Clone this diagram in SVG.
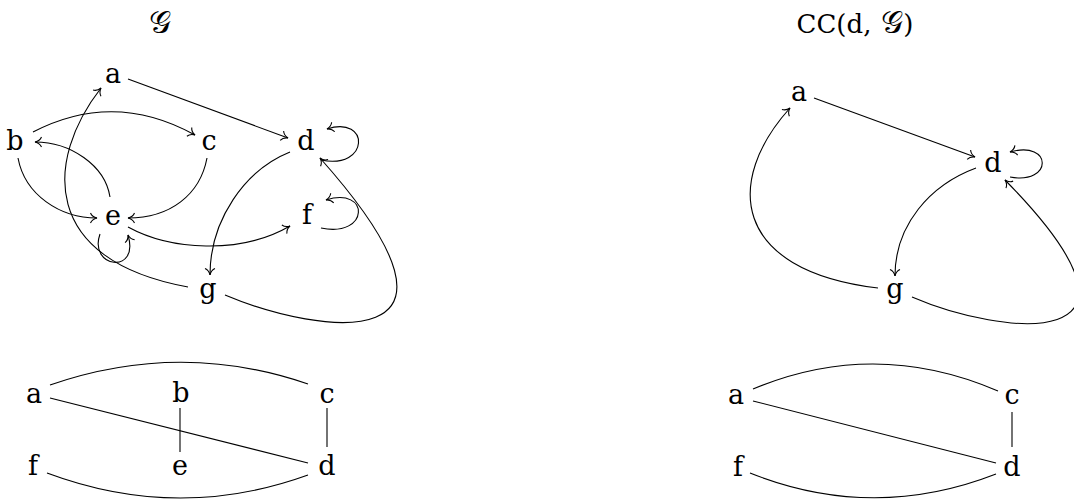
<svg xmlns="http://www.w3.org/2000/svg" width="1074" height="500" viewBox="0 0 1074 500">
<style>
text{font-family:"DejaVu Serif","Liberation Serif",serif;font-size:27px;fill:#000;text-anchor:middle}
.t{font-size:26px}
.s{font-size:31px}
.e{fill:none;stroke:#000;stroke-width:1.1}
.a{marker-end:url(#arr)}
</style>
<defs>
<marker id="arr" markerUnits="userSpaceOnUse" viewBox="-8 -7 10 14" markerWidth="10" markerHeight="14" refX="0" refY="0" orient="auto" overflow="visible">
<path d="M-6.5,-5 C-5.2,-2 -1.8,-0.4 0,0 C-1.8,0.4 -5.2,2 -6.5,5" fill="none" stroke="#000" stroke-width="1.1"/>
</marker>
</defs>
<rect width="1074" height="500" fill="#fff"/>
<g id="titles">
<text class="s" x="160" y="33">𝒢</text>
<text class="t" x="855" y="33">CC(d,<tspan class="s"> 𝒢</tspan>)</text>
</g>
<g id="connectors">
<path class="e a" d="M128,79 L288,138"/>
<path class="e a" d="M33,132 Q114,90 195,135"/>
<path class="e a" d="M110,197 C105,165 70,142 35,142"/>
<path class="e a" d="M18,158 C25,195 60,218 97,218"/>
<path class="e a" d="M207,158 C200,195 170,218 128,218"/>
<path class="e a" d="M290,152 C245,170 210,220 210,275"/>
<path class="e a" d="M128,227 C170,250 240,255 290,226"/>
<path class="e a" d="M100,234 C88,268 140,275 128,235"/>
<path class="e a" d="M188,287 C40,260 45,160 101,88"/>
<path class="e a" d="M225,295 C320,335 500,360 320,158"/>
<path class="e a" d="M321,160 C370,170 370,115 327,129"/>
<path class="e a" d="M321,228 C370,238 370,186 326,200"/>
<path class="e a" d="M814,98 L975,157"/>
<path class="e a" d="M976,168 C930,185 895,225 895,276"/>
<path class="e a" d="M878,288 C730,270 725,180 790,108"/>
<path class="e a" d="M912,297 C1000,335 1180,358 1005,180"/>
<path class="e a" d="M1010,177 C1053,185 1053,140 1010,152"/>
<path class="e" d="M50,385 Q180,340 308,384"/>
<path class="e" d="M50,398 L308,463"/>
<path class="e" d="M180,408 L180,452"/>
<path class="e" d="M327,408 L327,447"/>
<path class="e" d="M47,473 Q178,522 308,475"/>
<path class="e" d="M753,389 Q875,338 998,391"/>
<path class="e" d="M753,401 L996,463"/>
<path class="e" d="M1012,412 L1012,447"/>
<path class="e" d="M750,473 Q873,522 996,474"/>
</g>
<g id="L-a"><text x="113" y="83">a</text></g>
<g id="L-b"><text x="15" y="150">b</text></g>
<g id="L-c"><text x="209" y="150">c</text></g>
<g id="L-d"><text x="306" y="150">d</text></g>
<g id="L-e"><text x="113" y="225">e</text></g>
<g id="L-f"><text x="307" y="224">f</text></g>
<g id="L-g"><text x="208" y="298">g</text></g>
<g id="R-a"><text x="799" y="101">a</text></g>
<g id="R-d"><text x="993" y="172">d</text></g>
<g id="R-g"><text x="895" y="298">g</text></g>
<g id="LB-a"><text x="34" y="403">a</text></g>
<g id="LB-b"><text x="181" y="402">b</text></g>
<g id="LB-c"><text x="327" y="403">c</text></g>
<g id="LB-f"><text x="33" y="475">f</text></g>
<g id="LB-e"><text x="180" y="475">e</text></g>
<g id="LB-d"><text x="327" y="475">d</text></g>
<g id="RB-a"><text x="736" y="404">a</text></g>
<g id="RB-c"><text x="1012" y="404">c</text></g>
<g id="RB-f"><text x="738" y="476">f</text></g>
<g id="RB-d"><text x="1012" y="476">d</text></g>
</svg>
